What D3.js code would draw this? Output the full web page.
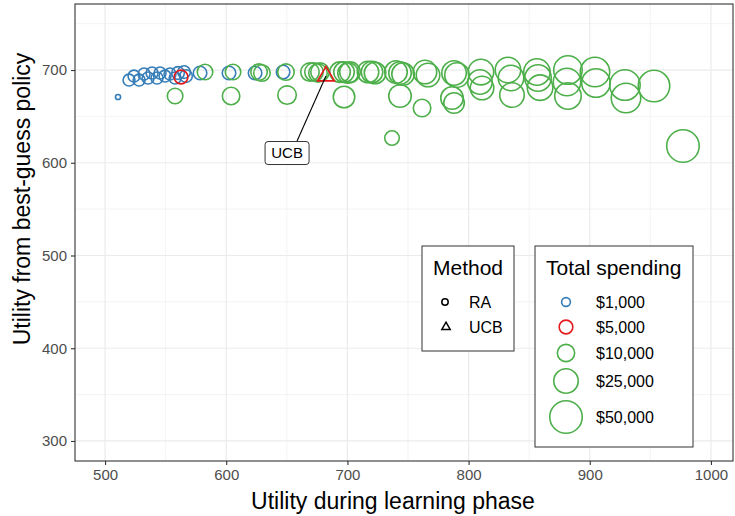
<!DOCTYPE html>
<html><head><meta charset="utf-8">
<script src="https://cdn.jsdelivr.net/npm/d3@7"></script>
<style>
body{margin:0;background:#fff;}
svg text{font-family:"Liberation Sans",Arial,Helvetica,sans-serif;}
</style></head>
<body><svg id="c" width="735" height="516"></svg>
<script>
// ---- data ----
const learnUtil = [510.7,519.8,523.9,528.1,532.2,535.5,538.8,542.9,545.4,549.5,553.6,557.8,560.2,565.2,566.8,578.4,602.3,623.8,646.9,
  562.7,
  582.5,605.6,627.1,629.5,649.3,557.8,604.0,650.2,669.1,672.4,675.7,677.4,693.9,697.2,700.5,702.1,697.2,717.0,720.3,722.8,
  743.4,740.1,743.4,745.9,761.6,764.0,766.5,786.3,788.0,788.0,790.4,811.1,810.2,809.4,832.5,835.0,835.8,856.4,857.3,859.0,
  882.0,881.2,882.0,904.3,905.1,929.0,929.9,953.0,736.8,976.9,
  682.3];
const bestUtil = [670.9,689.2,693.5,689.2,695.7,691.4,696.8,691.4,696.8,693.5,695.7,691.4,696.8,697.8,693.5,696.8,696.8,696.8,697.8,
  692.5,
  697.8,697.8,697.8,696.8,697.8,672.0,672.0,673.0,697.8,697.8,696.8,697.8,697.8,697.8,696.8,697.8,670.9,697.8,697.8,696.8,
  672.0,697.8,696.8,695.7,659.0,697.8,694.6,669.8,664.4,696.8,694.6,680.6,697.8,687.1,700.0,691.4,673.0,697.8,691.4,681.0,
  700.0,687.1,672.0,697.8,686.0,683.8,669.8,682.7,626.7,618.1,
  693.5];
const spending = [100,3200,3200,3200,3200,3200,3200,3200,3200,3200,3200,3200,3900,3900,3900,4800,4800,4800,4800,
  5000,
  7300,7300,8700,8700,8700,7300,10300,12000,12000,12000,12000,12000,15900,15900,15900,15900,18000,18000,18000,18000,
  20200,20200,20200,20200,10300,22600,22600,20200,15900,25100,25100,22600,27800,25100,27800,27800,25100,30500,30500,27800,
  36500,33500,30500,39700,36500,43000,39700,46400,6000,50000,
  5000];
const method = learnUtil.map((d,i)=> i===learnUtil.length-1 ? "UCB" : "RA");

const xTicks = [500,600,700,800,900,1000];
const yTicks = [300,400,500,600,700];
const xMinor = [550,650,750,850,950];
const yMinor = [350,450,550,650,750];
const methodLabels = ["RA","UCB"];
const spendBreaks = [1000,5000,10000,25000,50000];
const spendLabels = ["$1,000","$5,000","$10,000","$25,000","$50,000"];
const annotLabel = {text:"UCB", x:650.2, y:610.5};

// ---- layout ----
const P = {l:75, r:733, t:4, b:461};
const svg = d3.select("#c");
const x = d3.scaleLinear().domain([475.2,1018.2]).range([P.l,P.r]);
const y = d3.scaleLinear().domain([278.4,771.2]).range([P.b,P.t]);
const sizeLim = [100,50000];
const rLin = d3.scaleLinear().domain([0,1]).range([2.55,16.25]);
const rad = v => rLin(Math.sqrt(Math.max(0,(v-sizeLim[0])/(sizeLim[1]-sizeLim[0]))));
const colour = d3.scaleThreshold().domain([4999,5001]).range(["#377EB8","#E41A1C","#4DAF4A"]);

// panel background + grid
svg.append("rect").attr("x",P.l).attr("y",P.t).attr("width",P.r-P.l).attr("height",P.b-P.t).attr("fill","#fff");
const g = svg.append("g");
g.selectAll(".xm").data(xMinor).join("line").attr("x1",d=>x(d)).attr("x2",d=>x(d)).attr("y1",P.t).attr("y2",P.b).attr("stroke","#ebebeb").attr("stroke-width",0.6);
g.selectAll(".ym").data(yMinor).join("line").attr("y1",d=>y(d)).attr("y2",d=>y(d)).attr("x1",P.l).attr("x2",P.r).attr("stroke","#ebebeb").attr("stroke-width",0.6);
g.selectAll(".xg").data(xTicks).join("line").attr("x1",d=>x(d)).attr("x2",d=>x(d)).attr("y1",P.t).attr("y2",P.b).attr("stroke","#ebebeb").attr("stroke-width",1.2);
g.selectAll(".yg").data(yTicks).join("line").attr("y1",d=>y(d)).attr("y2",d=>y(d)).attr("x1",P.l).attr("x2",P.r).attr("stroke","#ebebeb").attr("stroke-width",1.2);

// points
const pts = learnUtil.map((d,i)=>({x:d,y:bestUtil[i],v:spending[i],m:method[i]}));
const pg = svg.append("g");
pts.forEach(p=>{
  if(p.m==="RA"){
    pg.append("circle").attr("cx",x(p.x)).attr("cy",y(p.y)).attr("r",rad(p.v))
      .attr("fill","none").attr("stroke",colour(p.v)).attr("stroke-width",1.6);
  }
});
// annotation line + label
const ucb = pts.find(p=>p.m==="UCB");
svg.append("line").attr("x1",x(annotLabel.x)+10).attr("y1",y(annotLabel.y)-12)
  .attr("x2",x(ucb.x)).attr("y2",y(ucb.y)).attr("stroke","#000").attr("stroke-width",1.1);
pts.forEach(p=>{
  if(p.m==="UCB"){
    const s = rad(p.v)*2.45;
    pg.append("path").attr("d",d3.symbol(d3.symbolTriangle, s*s*Math.sqrt(3)/4)())
      .attr("transform",`translate(${x(p.x)},${y(p.y)})`)
      .attr("fill","none").attr("stroke",colour(p.v)).attr("stroke-width",1.7);
  }
});
const lg = svg.append("g").attr("transform",`translate(${x(annotLabel.x)},${y(annotLabel.y)})`);
lg.append("rect").attr("x",-22).attr("y",-11.5).attr("width",44).attr("height",23).attr("rx",3)
  .attr("fill","#fff").attr("stroke","#000").attr("stroke-width",0.8);
lg.append("text").attr("text-anchor","middle").attr("dy","0.36em").attr("font-size",15).text(annotLabel.text);

// panel border
svg.append("rect").attr("x",P.l).attr("y",P.t).attr("width",P.r-P.l).attr("height",P.b-P.t)
  .attr("fill","none").attr("stroke","#333").attr("stroke-width",1.1);

// axes
const xa = svg.append("g").attr("transform",`translate(0,${P.b})`)
  .call(d3.axisBottom(x).tickValues(xTicks).tickFormat(d3.format("d")).tickSize(4).tickSizeOuter(0).tickPadding(4));
const ya = svg.append("g").attr("transform",`translate(${P.l},0)`)
  .call(d3.axisLeft(y).tickValues(yTicks).tickFormat(d3.format("d")).tickSize(4).tickSizeOuter(0).tickPadding(4));
[xa,ya].forEach(a=>{
  a.select(".domain").remove();
  a.selectAll(".tick line").attr("stroke","#333").attr("stroke-width",1.1);
  a.selectAll(".tick text").attr("fill","#4d4d4d").attr("font-size",15)
   .attr("font-family","Liberation Sans,Arial,sans-serif");
});
svg.append("text").attr("x",393).attr("y",509).attr("text-anchor","middle").attr("font-size",23).text("Utility during learning phase");
svg.append("text").attr("transform",`translate(30,199) rotate(-90)`).attr("text-anchor","middle").attr("font-size",23).text("Utility from best-guess policy");

// legend: Method
const L1 = svg.append("g").attr("transform","translate(422,246)");
L1.append("rect").attr("width",92).attr("height",105).attr("fill","#fff").attr("stroke","#333").attr("stroke-width",1);
L1.append("text").attr("x",46).attr("y",29).attr("text-anchor","middle").attr("font-size",21).text("Method");
methodLabels.forEach((m,i)=>{
  const cy = 56 + i*25;
  if(m==="RA") L1.append("circle").attr("cx",23).attr("cy",cy).attr("r",3.2).attr("fill","none").attr("stroke","#000").attr("stroke-width",1.5);
  else L1.append("path").attr("d",d3.symbol(d3.symbolTriangle,30)()).attr("transform",`translate(24,${cy})`).attr("fill","none").attr("stroke","#000").attr("stroke-width",1.5);
  L1.append("text").attr("x",47).attr("y",cy).attr("dy","0.36em").attr("font-size",16).text(m);
});

// legend: Total spending
const L2 = svg.append("g").attr("transform","translate(535,246)");
L2.append("rect").attr("width",158).attr("height",201).attr("fill","#fff").attr("stroke","#333").attr("stroke-width",1);
L2.append("text").attr("x",11).attr("y",29).attr("font-size",21).text("Total spending");
const keyY = [56,81,107,135,171];
spendBreaks.forEach((v,i)=>{
  L2.append("circle").attr("cx",31).attr("cy",keyY[i]).attr("r",rad(v)).attr("fill","none").attr("stroke",colour(v)).attr("stroke-width",1.6);
  L2.append("text").attr("x",61).attr("y",keyY[i]).attr("dy","0.36em").attr("font-size",16).text(spendLabels[i]);
});
</script></body></html>
